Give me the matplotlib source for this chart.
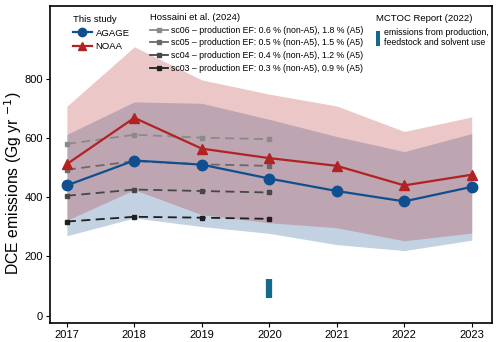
import matplotlib
matplotlib.use("Agg")
import matplotlib.pyplot as plt
from matplotlib.lines import Line2D
from matplotlib.patches import Patch

plt.rcParams['font.family'] = ['Liberation Sans', 'DejaVu Sans']

years = [2017, 2018, 2019, 2020, 2021, 2022, 2023]
agage = [440, 524, 510, 463, 421, 386, 435]
agage_lo = [270, 330, 301, 278, 240, 220, 255]
agage_hi = [612, 722, 717, 663, 605, 554, 615]
noaa = [512, 668, 564, 532, 506, 440, 476]
noaa_lo = [322, 425, 341, 314, 297, 253, 279]
noaa_hi = [707, 908, 796, 748, 708, 622, 671]

hoss_years = [2017, 2018, 2019, 2020]
sc06 = [580, 611, 601, 596]
sc05 = [493, 522, 511, 506]
sc04 = [405, 426, 421, 416]
sc03 = [318, 334, 331, 327]
hoss_labels = [
    "sc06 – production EF: 0.6 % (non-A5), 1.8 % (A5)",
    "sc05 – production EF: 0.5 % (non-A5), 1.5 % (A5)",
    "sc04 – production EF: 0.4 % (non-A5), 1.2 % (A5)",
    "sc03 – production EF: 0.3 % (non-A5), 0.9 % (A5)",
]
mctoc_year = 2020
mctoc_range = [60, 125]

blue = '#0f4f8f'
red = '#b22222'
teal = '#136b8c'
grey_cols = ['#8a8a8a', '#6a6a6a', '#474747', '#1f1f1f']

fig = plt.figure(figsize=(5, 3.42), dpi=100)
ax = fig.add_axes([0.1, 0.056, 0.884, 0.926])

ax.fill_between(years, agage_lo, agage_hi, color=blue, alpha=0.25, lw=0)
ax.fill_between(years, noaa_lo, noaa_hi, color=red, alpha=0.25, lw=0)

for vals, c in zip([sc06, sc05, sc04, sc03], grey_cols):
    ax.plot(hoss_years, vals, color=c, ls=(0, (5, 3)), lw=1.3, marker='s', ms=3.5)

ax.plot(years, noaa, color=red, lw=1.6, marker='^', ms=7.5)
ax.plot(years, agage, color=blue, lw=1.6, marker='o', ms=7.5)

ax.plot([mctoc_year, mctoc_year], mctoc_range, color=teal, lw=4.5, solid_capstyle='butt')

ax.set_xlim(2016.75, 2023.3)
ax.set_ylim(-24, 1045)
ax.set_xticks(years)
ax.set_yticks([0, 200, 400, 600, 800])
ax.tick_params(labelsize=8, length=3, width=0.8, pad=2)
ax.set_ylabel("DCE emissions (Gg yr $^{-1}$)", fontsize=11.3)
ax.yaxis.set_label_coords(-0.058, 0.44)
for s in ax.spines.values():
    s.set_linewidth(1.2)

tfs = 6.8
efs = 6.3
h1 = [Line2D([], [], color=blue, lw=1.6, marker='o', ms=6),
      Line2D([], [], color=red, lw=1.6, marker='^', ms=6)]
leg1 = ax.legend(h1, ['AGAGE', 'NOAA'], title='This study', loc='upper left',
                 bbox_to_anchor=(0.037, 0.993), frameon=False, fontsize=tfs,
                 title_fontsize=tfs, alignment='left', handlelength=2.0,
                 handletextpad=0.4, labelspacing=0.5, borderpad=0.2)
ax.add_artist(leg1)

h2 = [Line2D([], [], color=c, lw=1.3, marker='s', ms=3.5) for c in grey_cols]
leg2 = ax.legend(h2, hoss_labels, title='Hossaini et al. (2024)', loc='upper left',
                 bbox_to_anchor=(0.213, 0.998), frameon=False, fontsize=efs,
                 title_fontsize=tfs, alignment='left', handlelength=2.0,
                 handletextpad=0.4, labelspacing=0.42, borderpad=0.2)
ax.add_artist(leg2)

h3 = [Patch(facecolor=teal, edgecolor='none')]
leg3 = ax.legend(h3, ['emissions from production,\nfeedstock and solvent use'],
                 title='MCTOC Report (2022)', loc='upper left',
                 bbox_to_anchor=(0.724, 0.993), frameon=False, fontsize=efs,
                 title_fontsize=tfs, alignment='left', handlelength=0.4,
                 handleheight=2.2, handletextpad=0.5, borderpad=0.2)

fig.savefig('out.png', dpi=100)
